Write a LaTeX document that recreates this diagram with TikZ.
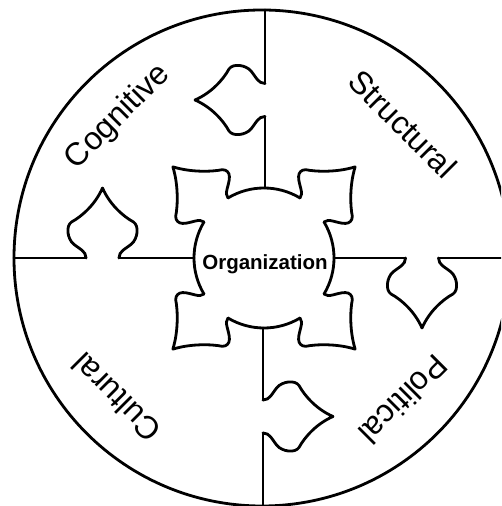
\documentclass[tikz,border=0pt]{standalone}
\usepackage{fontspec}
\setmainfont{Liberation Sans}
\newcommand\tabprofile{(0,-16.5) .. controls (7,-16.5) and (9,-23) .. (14,-29)
  .. controls (19,-35) and (32,-37) .. (36,-31)
  .. controls (42,-20) and (54,-7) .. (70,0)
  .. controls (54,7) and (42,20) .. (36,31)
  .. controls (32,37) and (19,35) .. (14,29)
  .. controls (9,23) and (7,16.5) .. (0,16.5)}
\newcommand\ctabprofile{(0,-17) .. controls (6,-17) and (8,-27) .. (14,-33)
  .. controls (17,-36) and (21,-36) .. (24,-33)
  .. controls (30,-24) and (44,-9) .. (61,0)
  .. controls (44,9) and (30,24) .. (24,33)
  .. controls (21,36) and (17,36) .. (14,33)
  .. controls (8,27) and (6,17) .. (0,17)}
\tikzset{
  lbl/.style={inner sep=0pt, font=\fontsize{32}{32}\selectfont},
  orglbl/.style={inner sep=0pt, font=\bfseries\fontsize{20.5}{20.5}\selectfont},
  piece/.style={draw=black, line width=2.8pt, line cap=round, line join=round}
}
\begin{document}
\begin{tikzpicture}[x=1pt,y=1pt]
\useasboundingbox (0,0) rectangle (501,506);
\clip (0,0) rectangle (501,506);
\coordinate (O) at (262,248);
\coordinate (C) at (264,248);
% outer circle
\draw[piece] (O) circle[radius=248];
% cross lines with named end points
\coordinate (topA) at (265,496);   \coordinate (topB) at (265,422.5);
\coordinate (topC) at (265,389.5); \coordinate (topD) at (265,318);
\coordinate (lefA) at (14,248);    \coordinate (lefB) at (86,248);
\coordinate (lefC) at (119,248);   \coordinate (lefD) at (194,248);
\coordinate (rigA) at (334,248);   \coordinate (rigB) at (405.5,248);
\coordinate (rigC) at (438.5,248); \coordinate (rigD) at (512,248);
\coordinate (botA) at (263,178);   \coordinate (botB) at (263,106);
\coordinate (botC) at (263,73);    \coordinate (botD) at (263,-2);
\draw[piece] (topA) -- (topB);
\draw[piece] (topC) -- (topD);
\draw[piece] (lefA) -- (lefB);
\draw[piece] (lefC) -- (lefD);
\draw[piece] (rigA) -- (rigB);
\draw[piece] (rigC) -- (rigD);
\draw[piece] (botA) -- (botB);
\draw[piece] (botC) -- (botD);
% outer tabs
\draw[piece, shift={(265,406)}, rotate=180] \tabprofile;
\draw[piece, shift={(102.5,248)}, rotate=90] \tabprofile;
\draw[piece, shift={(422,248)}, rotate=-90] \tabprofile;
\draw[piece, shift={(263,89.5)}, rotate=0] \tabprofile;
% central piece
\foreach \t in {45,135,225,315} {
  \draw[piece, shift={(C)}, rotate=\t, shift={(67.9,0)}] \ctabprofile;
  \draw[piece, shift={(C)}] ({\t+14.06}:70) arc[start angle={\t+14.06}, end angle={\t+75.94}, radius=70];
}
% labels
\node[lbl, rotate=45] (cog) at (118,389) {Cognitive};
\node[lbl, rotate=-45] (str) at (403,382) {Structural};
\node[lbl, rotate=135] (cul) at (116,108) {Cultural};
\node[lbl, rotate=-135] (pol) at (404,106) {Political};
\node[orglbl] (org) at (265,242) {Organization};
\end{tikzpicture}
\end{document}
